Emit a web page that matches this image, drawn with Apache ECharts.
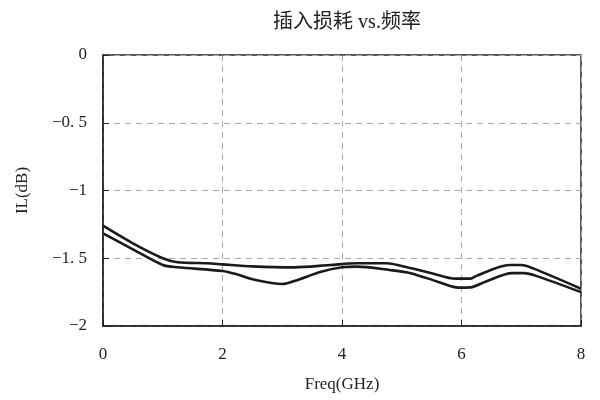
<!DOCTYPE html>
<html><head><meta charset="utf-8">
<script src="https://cdn.jsdelivr.net/npm/echarts@6/dist/echarts.min.js"></script>
<style>html,body{margin:0;padding:0;background:#fff}#c{width:600px;height:400px}</style>
</head><body><div id="c"></div>
<script>
const titleText = '插入损耗 vs.频率';
const xName = 'Freq(GHz)';
const yName = 'IL(dB)';
const freqUpper = [0,0.5,1.0,1.25,1.75,2.0,2.5,3.2,3.8,4.25,4.75,5.0,5.5,5.9,6.15,6.25,6.8,7.0,7.2,8.0];
const ilUpper = [-1.26,-1.39,-1.50,-1.53,-1.537,-1.545,-1.56,-1.567,-1.55,-1.537,-1.537,-1.557,-1.61,-1.65,-1.65,-1.63,-1.55,-1.55,-1.575,-1.725];
const freqLower = [0,0.5,1.0,1.25,2.0,2.25,2.5,3.0,3.2,3.65,4.0,4.25,4.8,5.15,5.6,5.95,6.15,6.4,6.85,7.05,7.25,8.0];
const ilLower = [-1.316,-1.434,-1.55,-1.567,-1.594,-1.62,-1.655,-1.69,-1.668,-1.60,-1.567,-1.562,-1.587,-1.61,-1.673,-1.717,-1.715,-1.673,-1.61,-1.61,-1.63,-1.75];

const serif = '"Liberation Serif", "DejaVu Serif", "Noto Sans CJK SC", serif';
const chart = echarts.init(document.getElementById('c'));
const pairs = (xs, ys) => xs.map((x, i) => [x, ys[i]]);
chart.setOption({
  animation: false,
  title: { text: titleText, left: 342, textAlign: 'center', top: 8,
    textStyle: { fontFamily: serif, fontSize: 20, fontWeight: 'normal', color: '#222' } },
  grid: { left: 103, right: 19, top: 55, bottom: 74, show: true, borderColor: '#222', borderWidth: 1.5 },
  xAxis: {
    type: 'value', min: 0, max: 8, interval: 2,
    name: xName, nameLocation: 'middle', nameGap: 50,
    nameTextStyle: { fontFamily: serif, fontSize: 17, color: '#222' },
    axisLine: { show: true, onZero: false, lineStyle: { color: '#222', width: 1.5 } },
    axisTick: { show: true, inside: true, length: 6, lineStyle: { color: '#222' } },
    axisLabel: { fontFamily: serif, fontSize: 17, color: '#222', margin: 20 },
    splitLine: { show: true, lineStyle: { color: '#aaa', type: [6, 5], width: 1 } }
  },
  yAxis: {
    type: 'value', min: -2, max: 0, interval: 0.5,
    name: yName, nameLocation: 'middle', nameGap: 72, nameRotate: 90,
    nameTextStyle: { fontFamily: serif, fontSize: 17, color: '#222' },
    axisLine: { show: true, onZero: false, lineStyle: { color: '#222', width: 1.5 } },
    axisTick: { show: true, inside: true, length: 6, lineStyle: { color: '#222' } },
    axisLabel: { fontFamily: serif, fontSize: 17, color: '#222', margin: 16,
      formatter: v => v === 0 ? '0' : '\u2212' + String(Math.abs(v)).replace('.', '. ') },
    splitLine: { show: true, lineStyle: { color: '#aaa', type: [6, 5], width: 1 } }
  },
  series: [
    { type: 'line', data: pairs(freqUpper, ilUpper), showSymbol: false, smooth: 0.3,
      lineStyle: { color: '#1a1a1a', width: 2.6 } },
    { type: 'line', data: pairs(freqLower, ilLower), showSymbol: false, smooth: 0.3,
      lineStyle: { color: '#1a1a1a', width: 2.6 } }
  ]
});
</script></body></html>
